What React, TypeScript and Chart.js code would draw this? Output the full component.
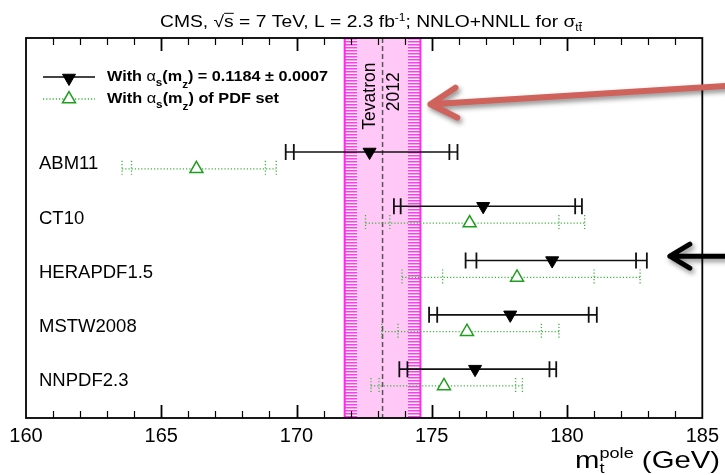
import React, { useEffect, useRef } from 'react';
import { Chart, registerables } from 'chart.js';

Chart.register(...registerables);

const FONT = "'Liberation Sans', Arial, Helvetica, sans-serif";

// ---------------- data ----------------
const categories = ['ABM11', 'CT10', 'HERAPDF1.5', 'MSTW2008', 'NNPDF2.3'];

// With alpha_s(m_Z) = 0.1184 +- 0.0007 (black, filled down-triangle)
const fixedCentral = [172.7, 176.9, 179.45, 177.9, 176.6];
const fixedOuterLow = [169.6, 173.6, 176.25, 174.9, 173.8];
const fixedInnerLow = [169.9, 173.85, 176.65, 175.2, 174.1];
const fixedInnerHigh = [175.65, 180.3, 182.55, 180.8, 179.35];
const fixedOuterHigh = [175.95, 180.55, 182.95, 181.1, 179.6];

// With alpha_s(m_Z) of PDF set (green, open up-triangle)
const pdfCentral = [166.3, 176.4, 178.15, 176.3, 175.45];
const pdfOuterLow = [163.55, 172.55, 173.9, 173.15, 172.75];
const pdfInnerLow = [163.9, 173.45, 175.4, 173.75, 173.05];
const pdfInnerHigh = [168.85, 179.7, 181.0, 179.05, 178.1];
const pdfOuterHigh = [169.25, 180.65, 182.7, 179.7, 178.35];

// row positions on the (hidden) vertical scale
const fixedRowY = [2.1, 3.1, 4.1, 5.1, 6.1];
const pdfRowY = [2.41, 3.41, 4.41, 5.41, 6.41];

// Tevatron 2012 band
const tevatronMass = 173.18;
const tevatronInner = 0.94;
const tevatronOuter = 1.4;

// axis
const xMin = 160;
const xMax = 185;
const xMajorStep = 5;
const xMinorStep = 1;

const legendTexts = ['= 0.1184 \u00b1 0.0007', 'of PDF set'];

// ---------------- colours ----------------
const BLACK = '#111111';
const GREEN = '#1f9e1f';
const GREEN_DOT = '#3cb43c';
const BAND_LIGHT = '#ffc8f6';
const BAND_OUTER_BG = '#fff0fc';
const BAND_STRIPE = '#ff3cee';
const BAND_EDGE = '#ff2aec';
const ARROW_RED = '#d0625c';

type Seg = { t: string; s?: number; dy?: number; bold?: boolean; over?: boolean; noAdv?: boolean };

function richText(
  ctx: CanvasRenderingContext2D,
  segs: Seg[],
  x: number,
  y: number,
  size: number,
  align: 'left' | 'center' | 'right',
  targetWidth?: number,
  color = '#000'
) {
  const font = (sg: Seg) => `${sg.bold ? 'bold ' : ''}${(size * (sg.s ?? 1)).toFixed(2)}px ${FONT}`;
  let total = 0;
  const ws: number[] = [];
  for (const sg of segs) {
    ctx.font = font(sg);
    const w = ctx.measureText(sg.t).width;
    ws.push(w);
    if (!sg.noAdv) total += w;
  }
  const k = targetWidth ? targetWidth / total : 1;
  const W = total * k;
  const x0 = align === 'left' ? x : align === 'center' ? x - W / 2 : x - W;
  ctx.save();
  ctx.translate(x0, y);
  ctx.scale(k, 1);
  ctx.fillStyle = color;
  ctx.strokeStyle = color;
  ctx.textAlign = 'left';
  ctx.textBaseline = 'alphabetic';
  let cx = 0;
  segs.forEach((sg, i) => {
    ctx.font = font(sg);
    const dy = (sg.dy ?? 0) * size;
    ctx.fillText(sg.t, cx, dy);
    if (sg.over) {
      const sz = size * (sg.s ?? 1);
      ctx.lineWidth = 1;
      ctx.beginPath();
      ctx.moveTo(cx, dy - sz * 0.84);
      ctx.lineTo(cx + ws[i], dy - sz * 0.84);
      ctx.stroke();
    }
    if (!sg.noAdv) cx += ws[i];
  });
  ctx.restore();
}

function triangle(
  ctx: CanvasRenderingContext2D,
  x: number,
  y: number,
  r: number,
  down: boolean,
  fill: string,
  stroke: string,
  lw: number
) {
  const s = down ? -1 : 1;
  ctx.beginPath();
  ctx.moveTo(x, y - s * r);
  ctx.lineTo(x + (r * Math.sqrt(3)) / 2, y + (s * r) / 2);
  ctx.lineTo(x - (r * Math.sqrt(3)) / 2, y + (s * r) / 2);
  ctx.closePath();
  ctx.fillStyle = fill;
  ctx.fill();
  ctx.strokeStyle = stroke;
  ctx.lineWidth = lw;
  ctx.stroke();
}

function arrow(
  ctx: CanvasRenderingContext2D,
  x1: number,
  y1: number,
  x2: number,
  y2: number,
  color: string,
  width: number,
  headLen: number,
  headHalf: number
) {
  ctx.save();
  ctx.shadowColor = 'rgba(0,0,0,0.45)';
  ctx.shadowBlur = 5;
  ctx.shadowOffsetX = 2;
  ctx.shadowOffsetY = 3;
  ctx.strokeStyle = color;
  ctx.lineWidth = width;
  ctx.lineCap = 'round';
  ctx.lineJoin = 'round';
  const dx = x2 - x1;
  const dy = y2 - y1;
  const L = Math.hypot(dx, dy);
  const ux = dx / L;
  const uy = dy / L;
  const px = -uy;
  const py = ux;
  ctx.beginPath();
  ctx.moveTo(x1, y1);
  ctx.lineTo(x2, y2);
  ctx.moveTo(x2 - ux * headLen + px * headHalf, y2 - uy * headLen + py * headHalf);
  ctx.lineTo(x2, y2);
  ctx.lineTo(x2 - ux * headLen - px * headHalf, y2 - uy * headLen - py * headHalf);
  ctx.stroke();
  ctx.restore();
}

const decorPlugin = {
  id: 'cmsDecor',
  beforeDatasetsDraw(chart: any) {
    const { ctx, chartArea: a } = chart;
    const x = chart.scales.x;
    const y = chart.scales.y;
    ctx.save();

    // ---- Tevatron band ----
    const xo1 = x.getPixelForValue(tevatronMass - tevatronOuter);
    const xo2 = x.getPixelForValue(tevatronMass + tevatronOuter);
    const xi1 = x.getPixelForValue(tevatronMass - tevatronInner);
    const xi2 = x.getPixelForValue(tevatronMass + tevatronInner);
    const xc = x.getPixelForValue(tevatronMass);
    const h = a.bottom - a.top;
    ctx.fillStyle = BAND_OUTER_BG;
    ctx.fillRect(xo1, a.top, xo2 - xo1, h);
    ctx.fillStyle = BAND_LIGHT;
    ctx.fillRect(xi1, a.top, xi2 - xi1, h);
    ctx.fillStyle = BAND_STRIPE;
    for (let yy = a.top; yy < a.bottom; yy += 3) {
      ctx.fillRect(xo1, yy, xi1 - xo1, 1.5);
      ctx.fillRect(xi2, yy, xo2 - xi2, 1.5);
    }
    ctx.strokeStyle = BAND_EDGE;
    ctx.lineWidth = 2;
    ctx.beginPath();
    ctx.moveTo(xo1, a.top);
    ctx.lineTo(xo1, a.bottom);
    ctx.moveTo(xo2, a.top);
    ctx.lineTo(xo2, a.bottom);
    ctx.stroke();
    // centre dashed line
    ctx.strokeStyle = '#555';
    ctx.lineWidth = 1.5;
    ctx.setLineDash([5, 3]);
    ctx.beginPath();
    ctx.moveTo(xc, a.top);
    ctx.lineTo(xc, a.bottom);
    ctx.stroke();
    ctx.setLineDash([]);

    // Tevatron 2012 label (rotated)
    ctx.fillStyle = '#000';
    ctx.font = `17.5px ${FONT}`;
    ctx.textAlign = 'center';
    ctx.textBaseline = 'middle';
    const rot = (txt: string, gx: number, gy: number) => {
      ctx.save();
      ctx.translate(x.getPixelForValue(gx), y.getPixelForValue(gy));
      ctx.rotate(-Math.PI / 2);
      ctx.fillText(txt, 0, 0);
      ctx.restore();
    };
    rot('Tevatron', 172.72, 1.07);
    rot('2012', 173.62, 0.99);

    // ---- error bars ----
    const capH = 8;
    const drawBar = (
      lo2: number, lo1: number, hi1: number, hi2: number, yy: number,
      color: string, dashed: boolean, lw: number, capLw: number
    ) => {
      const py = y.getPixelForValue(yy);
      ctx.strokeStyle = color;
      ctx.setLineDash(dashed ? [1.2, 2] : []);
      ctx.lineWidth = lw;
      ctx.beginPath();
      ctx.moveTo(x.getPixelForValue(lo2), py);
      ctx.lineTo(x.getPixelForValue(hi2), py);
      ctx.stroke();
      ctx.lineWidth = capLw;
      ctx.beginPath();
      for (const v of [lo2, lo1, hi1, hi2]) {
        const px = x.getPixelForValue(v);
        ctx.moveTo(px, py - capH);
        ctx.lineTo(px, py + capH);
      }
      ctx.stroke();
      ctx.setLineDash([]);
    };
    categories.forEach((_, i) => {
      drawBar(pdfOuterLow[i], pdfInnerLow[i], pdfInnerHigh[i], pdfOuterHigh[i], pdfRowY[i], GREEN_DOT, true, 1.3, 1.3);
      drawBar(fixedOuterLow[i], fixedInnerLow[i], fixedInnerHigh[i], fixedOuterHigh[i], fixedRowY[i], BLACK, false, 1.6, 1.8);
    });

    // ---- category labels ----
    ctx.fillStyle = '#000';
    ctx.font = `18.5px ${FONT}`;
    ctx.textAlign = 'left';
    ctx.textBaseline = 'alphabetic';
    categories.forEach((c, i) => {
      ctx.fillText(c, a.left + 13, y.getPixelForValue(pdfRowY[i]) + 0.5);
    });

    // ---- legend ----
    const lx1 = a.left + 17;
    const lx2 = a.left + 69;
    const lm = a.left + 43;
    const ly1 = a.top + 39;
    const ly2 = a.top + 61;
    ctx.strokeStyle = '#444';
    ctx.lineWidth = 2;
    ctx.beginPath();
    ctx.moveTo(lx1, ly1);
    ctx.lineTo(lx2, ly1);
    ctx.stroke();
    triangle(ctx, lm, ly1 + 1, 7.5, true, '#000', '#000', 1);
    ctx.strokeStyle = GREEN_DOT;
    ctx.lineWidth = 1.3;
    ctx.setLineDash([1.2, 2]);
    ctx.beginPath();
    ctx.moveTo(lx1, ly2);
    ctx.lineTo(lx2, ly2);
    ctx.stroke();
    ctx.setLineDash([]);
    triangle(ctx, lm, ly2, 7.5, false, '#fff', GREEN, 1.5);

    const tx = a.left + 81;
    richText(
      ctx,
      [
        { t: 'With ', bold: true },
        { t: '\u03b1' },
        { t: 's', s: 0.72, dy: 0.32, bold: true },
        { t: '(m', bold: true },
        { t: 'z', s: 0.72, dy: 0.45, bold: true },
        { t: ') ' + legendTexts[0], bold: true },
      ],
      tx, ly1 + 4, 15, 'left', 221
    );
    richText(
      ctx,
      [
        { t: 'With ', bold: true },
        { t: '\u03b1' },
        { t: 's', s: 0.72, dy: 0.32, bold: true },
        { t: '(m', bold: true },
        { t: 'z', s: 0.72, dy: 0.45, bold: true },
        { t: ') ' + legendTexts[1], bold: true },
      ],
      tx, ly2 + 4, 15, 'left', 172
    );
    ctx.restore();
  },
  afterDatasetsDraw(chart: any) {
    const { ctx, chartArea: a } = chart;
    const x = chart.scales.x;
    ctx.save();
    // ticks (inward, top and bottom)
    ctx.strokeStyle = '#000';
    for (let v = xMin + xMinorStep; v < xMax; v += xMinorStep) {
      const px = Math.round(x.getPixelForValue(v)) + 0.5;
      const major = v % xMajorStep === 0;
      const len = major ? 13 : 7;
      ctx.lineWidth = major ? 1.8 : 1.2;
      ctx.beginPath();
      ctx.moveTo(px, a.bottom);
      ctx.lineTo(px, a.bottom - len);
      ctx.moveTo(px, a.top);
      ctx.lineTo(px, a.top + len);
      ctx.stroke();
    }
    // frame
    ctx.lineWidth = 1.8;
    ctx.strokeRect(a.left, a.top, a.right - a.left, a.bottom - a.top);
    ctx.restore();
  },
  afterDraw(chart: any) {
    const { ctx } = chart;
    const x = chart.scales.x;
    const y = chart.scales.y;
    ctx.save();
    // title
    richText(
      ctx,
      [
        { t: 'CMS, ' },
        { t: '\u221a' },
        { t: 's', over: true },
        { t: ' = 7 TeV, L = 2.3 fb' },
        { t: '-1', s: 0.62, dy: -0.38 },
        { t: '; NNLO+NNLL for ' },
        { t: '\u03c3' },
        { t: 't', s: 0.62, dy: 0.25 },
        { t: 't', s: 0.62, dy: 0.25, over: true },
      ],
      371, 27, 16.3, 'center', 422
    );
    // x axis title
    richText(
      ctx,
      [
        { t: 'm' },
        { t: 't', s: 0.62, dy: 0.22, noAdv: true },
        { t: 'pole', s: 0.62, dy: -0.42 },
        { t: ' (GeV)' },
      ],
      720, 468, 24, 'right', 145
    );
    // annotation arrows
    const rTipX = x.getPixelForValue(174.95);
    const rTipY = y.getPixelForValue(1.22);
    arrow(ctx, chart.width + 4, rTipY - 18.5, rTipX, rTipY, ARROW_RED, 6, 26, 15);
    const bTipX = x.getPixelForValue(183.8);
    const bTipY = y.getPixelForValue(4.02);
    arrow(ctx, chart.width + 4, bTipY, bTipX, bTipY, '#000', 5, 20, 12);
    ctx.restore();
  },
};

export default function App() {
  const ref = useRef<HTMLCanvasElement>(null);
  useEffect(() => {
    document.body.style.margin = '0';
    Chart.defaults.font.family = FONT;
    const chart = new Chart(ref.current as HTMLCanvasElement, {
      type: 'scatter',
      data: {
        datasets: [
          {
            label: 'With alpha_s(mZ) of PDF set',
            data: pdfCentral.map((v, i) => ({ x: v, y: pdfRowY[i] })),
            pointStyle: 'triangle',
            pointRadius: 7.5,
            backgroundColor: '#ffffff',
            borderColor: GREEN,
            borderWidth: 1.5,
            showLine: false,
          },
          {
            label: 'With alpha_s(mZ) = 0.1184 +- 0.0007',
            data: fixedCentral.map((v, i) => ({ x: v, y: fixedRowY[i] })),
            pointStyle: 'triangle',
            pointRotation: 180,
            pointRadius: 7.5,
            backgroundColor: '#000000',
            borderColor: '#000000',
            borderWidth: 1,
            showLine: false,
          },
        ],
      },
      options: {
        animation: false,
        responsive: false,
        devicePixelRatio: 1,
        layout: { padding: { top: 38, left: 26, right: 20, bottom: 0 } },
        plugins: {
          legend: { display: false },
          tooltip: { enabled: false },
          title: { display: false },
        },
        scales: {
          x: {
            type: 'linear',
            position: 'bottom',
            min: xMin,
            max: xMax,
            grid: { display: false, drawTicks: false },
            border: { display: false },
            ticks: {
              stepSize: xMajorStep,
              autoSkip: false,
              color: '#000',
              padding: 6,
              font: { size: 20, family: FONT },
            },
            afterFit: (scale: any) => {
              scale.height = 57;
            },
          },
          y: {
            type: 'linear',
            display: false,
            min: 0,
            max: 7,
            reverse: true,
          },
        },
      },
      plugins: [decorPlugin],
    } as any);
    return () => chart.destroy();
  }, []);
  return (
    <div style={{ width: 725, height: 475 }}>
      <canvas ref={ref} width={725} height={475} style={{ display: 'block', width: 725, height: 475 }} />
    </div>
  );
}
